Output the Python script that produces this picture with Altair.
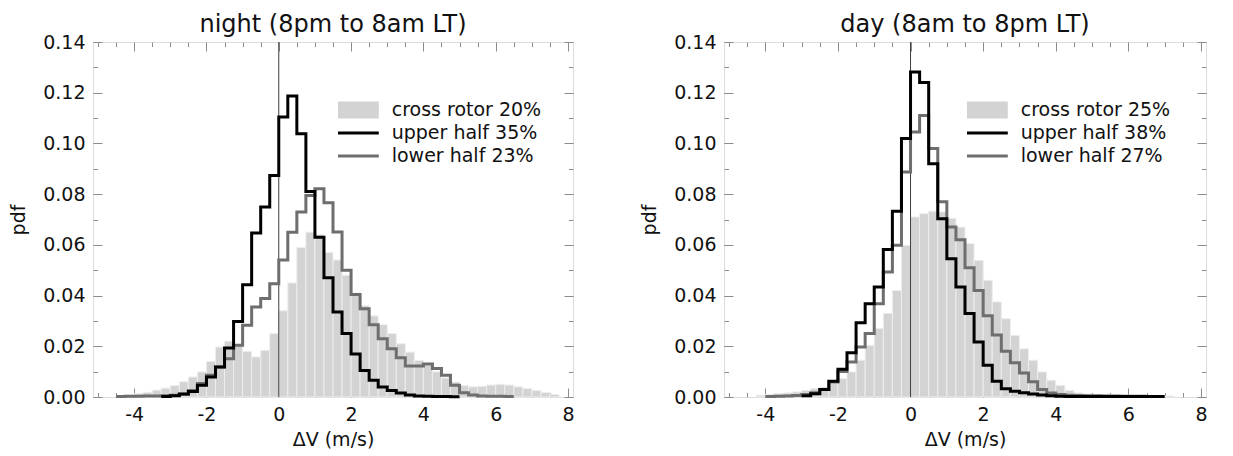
import altair as alt
import pandas as pd

# ---------------- data ----------------
BIN_WIDTH = 0.25
X_DOMAIN = [-5, 8]
Y_DOMAIN = [0.0, 0.14]
X_TICK_LABELS = [-4, -2, 0, 2, 4, 6, 8]
Y_TICK_LABELS = [0.00, 0.02, 0.04, 0.06, 0.08, 0.10, 0.12, 0.14]
X_MINOR_STEP = 0.5
Y_MINOR_STEP = 0.01
ZERO_REF = [0.0]

PANEL_TITLES = ["night (8pm to 8am LT)", "day (8am to 8pm LT)"]
X_TITLE = "ΔV (m/s)"
Y_TITLE = "pdf"
NIGHT_LEGEND = ["cross rotor 20%", "upper half 35%", "lower half 23%"]
DAY_LEGEND = ["cross rotor 25%", "upper half 38%", "lower half 27%"]

# night: cross rotor (bars), upper half (black), lower half (gray); left bin edge + values
NIGHT_CROSS_START = -4.5
NIGHT_CROSS = [0.0005, 0.0008, 0.0013, 0.0018, 0.0027, 0.0035, 0.0045, 0.0060, 0.0079, 0.0099,
               0.0140, 0.0197, 0.0220, 0.0205, 0.0180, 0.0158, 0.0184, 0.0250, 0.0340, 0.0450,
               0.0590, 0.0650, 0.0640, 0.0570, 0.0540, 0.0480, 0.0410, 0.0360, 0.0320, 0.0285,
               0.0250, 0.0210, 0.0177, 0.0144, 0.0125, 0.0099, 0.0075, 0.0059, 0.0045, 0.0040,
               0.0042, 0.0047, 0.0050, 0.0047, 0.0040, 0.0033, 0.0025, 0.0017, 0.0010]
NIGHT_UPPER_START = -3.25
NIGHT_UPPER = [0.0002, 0.0005, 0.0012, 0.0022, 0.0046, 0.0079, 0.0118, 0.0193, 0.0298, 0.0443,
               0.0647, 0.0749, 0.0874, 0.1104, 0.1187, 0.1038, 0.0810, 0.0630, 0.0470, 0.0335,
               0.0250, 0.0170, 0.0105, 0.0066, 0.0039, 0.0026, 0.0016, 0.0008, 0.0004, 0.0003,
               0.0002, 0.0002, 0.0001]
NIGHT_LOWER_START = -4.5
NIGHT_LOWER = [0.0002, 0.0003, 0.0003, 0.0004, 0.0004, 0.0005, 0.0007, 0.0011, 0.0026, 0.0053,
               0.0086, 0.0118, 0.0151, 0.0204, 0.0283, 0.0355, 0.0388, 0.0447, 0.0540, 0.0650,
               0.0730, 0.0795, 0.0821, 0.0766, 0.0651, 0.0500, 0.0404, 0.0348, 0.0285, 0.0230,
               0.0190, 0.0155, 0.0122, 0.0122, 0.0130, 0.0112, 0.0086, 0.0046, 0.0017, 0.0008,
               0.0004, 0.0003, 0.0003, 0.0002]

# day
DAY_CROSS_START = -4.25
DAY_CROSS = [0.0007, 0.0010, 0.0013, 0.0016, 0.0020, 0.0026, 0.0033, 0.0039, 0.0053, 0.0072,
             0.0099, 0.0145, 0.0204, 0.0270, 0.0330, 0.0420, 0.0598, 0.0710, 0.0723, 0.0733,
             0.0730, 0.0705, 0.0670, 0.0605, 0.0539, 0.0460, 0.0375, 0.0309, 0.0243, 0.0190,
             0.0145, 0.0099, 0.0066, 0.0046, 0.0026, 0.0016, 0.0012, 0.0010, 0.0009, 0.0008,
             0.0008, 0.0007, 0.0007, 0.0006, 0.0005, 0.0004]
DAY_UPPER_START = -3.0
DAY_UPPER = [0.0005, 0.0013, 0.0030, 0.0062, 0.0109, 0.0175, 0.0293, 0.0368, 0.0434, 0.0582,
             0.0733, 0.1019, 0.1282, 0.1240, 0.0920, 0.0703, 0.0545, 0.0434, 0.0329, 0.0217,
             0.0125, 0.0062, 0.0033, 0.0023, 0.0017, 0.0012, 0.0008, 0.0005, 0.0003, 0.0002,
             0.0002, 0.0002, 0.0002, 0.0002, 0.0002, 0.0002, 0.0002, 0.0002, 0.0002, 0.0002]
DAY_LOWER_START = -4.0
DAY_LOWER = [0.0002, 0.0003, 0.0004, 0.0006, 0.0010, 0.0017, 0.0030, 0.0059, 0.0101, 0.0138,
             0.0197, 0.0250, 0.0368, 0.0493, 0.0598, 0.0887, 0.1045, 0.1110, 0.0980, 0.0770,
             0.0670, 0.0620, 0.0510, 0.0420, 0.0320, 0.0245, 0.0180, 0.0135, 0.0095, 0.0060,
             0.0030, 0.0016, 0.0010, 0.0007, 0.0006, 0.0005, 0.0005, 0.0004, 0.0004, 0.0003,
             0.0003, 0.0003]

# ---------------- style ----------------
FONT = "DejaVu Sans"
TXT = "#111111"
AX = "#8c8c8c"
BAR = "#d3d3d3"
BAR_EDGE = "#ededed"
UPPER = "#000000"
LOWER = "#6e6e6e"
MAJOR = 9
MINOR = 4.5
LEG_COLORS = [BAR, UPPER, LOWER]
RECT_PATH = "M-2.4,-1H2.4V1H-2.4Z"
LINE_PATH = "M-2.4,-0.18H2.4V0.18H-2.4Z"
LEG_SHAPES = [RECT_PATH, LINE_PATH, LINE_PATH]


def bars_df(start, vals):
    x0 = [start + i * BIN_WIDTH for i in range(len(vals))]
    return pd.DataFrame({"x0": x0, "x1": [v + BIN_WIDTH for v in x0], "pdf": vals})


def step_df(start, vals):
    xs = [start + i * BIN_WIDTH for i in range(len(vals) + 1)]
    return pd.DataFrame({"x": xs, "pdf": list(vals) + [vals[-1]]})


n_xm = int(round((X_DOMAIN[1] - X_DOMAIN[0]) / X_MINOR_STEP))
X_MINOR = [round(X_DOMAIN[0] + i * X_MINOR_STEP, 3) for i in range(n_xm + 1)]
n_ym = int(round((Y_DOMAIN[1] - Y_DOMAIN[0]) / Y_MINOR_STEP))
Y_MINOR = [round(Y_DOMAIN[0] + i * Y_MINOR_STEP, 3) for i in range(n_ym + 1)]


def tick_axis(orient, values, size):
    return alt.Axis(orient=orient, values=values, labels=False, domain=False, grid=False,
                    ticks=True, tickSize=size, offset=-size, tickColor=AX, tickWidth=1,
                    title=None)


def panel(title, legend_labels, cs, cv, us, uv, ls, lv, width, legend_x):
    xs = alt.Scale(domain=X_DOMAIN, nice=False, zero=False)
    ys = alt.Scale(domain=Y_DOMAIN, nice=False, zero=True)
    main_x = alt.Axis(orient="bottom", values=X_TICK_LABELS, labelExpr="datum.value + ''",
                      domain=False, grid=False, ticks=True, tickSize=MAJOR, offset=-MAJOR,
                      tickColor=AX, tickWidth=1, labelFont=FONT, labelFontSize=19,
                      labelColor=TXT, labelPadding=8, labelFlush=False, labelOverlap=False,
                      title=X_TITLE, titleFont=FONT, titleFontSize=19,
                      titleFontWeight="normal", titleColor=TXT, titlePadding=6)
    main_y = alt.Axis(orient="left", values=Y_TICK_LABELS, format=".2f",
                      domain=False, grid=False, ticks=True, tickSize=MAJOR, offset=-MAJOR,
                      tickColor=AX, tickWidth=1, labelFont=FONT, labelFontSize=19,
                      labelColor=TXT, labelPadding=8, labelFlush=False, labelOverlap=False,
                      title=Y_TITLE, titleFont=FONT, titleFontSize=19,
                      titleFontWeight="normal", titleColor=TXT, titlePadding=14)

    bars = alt.Chart(bars_df(cs, cv)).mark_bar(
        color=BAR, stroke=BAR_EDGE, strokeWidth=1, orient="vertical"
    ).encode(
        x=alt.X("x0:Q", scale=xs, axis=main_x),
        x2="x1:Q",
        y=alt.Y("pdf:Q", scale=ys, axis=main_y),
    )
    zero = alt.Chart(pd.DataFrame({"ref": ZERO_REF})).mark_rule(
        color="#3c3c3c", strokeWidth=1
    ).encode(
        x=alt.X("ref:Q", scale=xs, axis=tick_axis("top", X_MINOR, MINOR)),
        y=alt.YDatum(Y_DOMAIN[0], scale=ys, axis=tick_axis("right", Y_MINOR, MINOR)),
        y2=alt.Y2Datum(Y_DOMAIN[1]),
    )
    lower = alt.Chart(step_df(ls, lv)).mark_line(
        interpolate="step-after", color=LOWER, strokeWidth=3, strokeJoin="miter"
    ).encode(
        x=alt.X("x:Q", scale=xs, axis=tick_axis("bottom", X_MINOR, MINOR)),
        y=alt.Y("pdf:Q", scale=ys, axis=tick_axis("left", Y_MINOR, MINOR)),
    )
    upper = alt.Chart(step_df(us, uv)).mark_line(
        interpolate="step-after", color=UPPER, strokeWidth=3, strokeJoin="miter"
    ).encode(
        x=alt.X("x:Q", scale=xs, axis=tick_axis("top", X_TICK_LABELS, MAJOR)),
        y=alt.Y("pdf:Q", scale=ys, axis=tick_axis("right", Y_TICK_LABELS, MAJOR)),
    )
    leg = alt.Legend(orient="none", legendX=legend_x, legendY=58.5, title=None,
                     labelFont=FONT, labelFontSize=19, labelColor=TXT,
                     symbolSize=289, symbolStrokeWidth=0, symbolOffset=10.9,
                     labelOffset=23.8, rowPadding=3, padding=0, symbolOpacity=1)
    legend_layer = alt.Chart(pd.DataFrame({"series": legend_labels})).mark_point(
        filled=True, opacity=1
    ).encode(
        color=alt.Color("series:N", scale=alt.Scale(domain=legend_labels, range=LEG_COLORS),
                        legend=leg),
        shape=alt.Shape("series:N", scale=alt.Scale(domain=legend_labels, range=LEG_SHAPES),
                        legend=leg),
    ).transform_filter("false")

    return alt.layer(bars, zero, lower, upper, legend_layer).resolve_axis(
        x="independent", y="independent"
    ).properties(
        width=width, height=355,
        title=alt.TitleParams(title, font=FONT, fontSize=24, fontWeight="normal",
                              color=TXT, offset=-4, anchor="middle", frame="group"),
    )


left = panel(PANEL_TITLES[0], NIGHT_LEGEND, NIGHT_CROSS_START, NIGHT_CROSS,
             NIGHT_UPPER_START, NIGHT_UPPER, NIGHT_LOWER_START, NIGHT_LOWER, 480, 245)
right = panel(PANEL_TITLES[1], DAY_LEGEND, DAY_CROSS_START, DAY_CROSS,
              DAY_UPPER_START, DAY_UPPER, DAY_LOWER_START, DAY_LOWER, 482, 243)

chart = alt.hconcat(left, right, spacing=65).resolve_scale(
    color="independent", shape="independent"
).resolve_legend(
    color="independent", shape="independent"
).properties(
    padding={"left": 1, "top": 4, "right": 5, "bottom": 0}
).configure_view(stroke=AX, strokeWidth=1).configure(background="white")

chart.save("out.html", embed_options={"renderer": "svg", "actions": False})
